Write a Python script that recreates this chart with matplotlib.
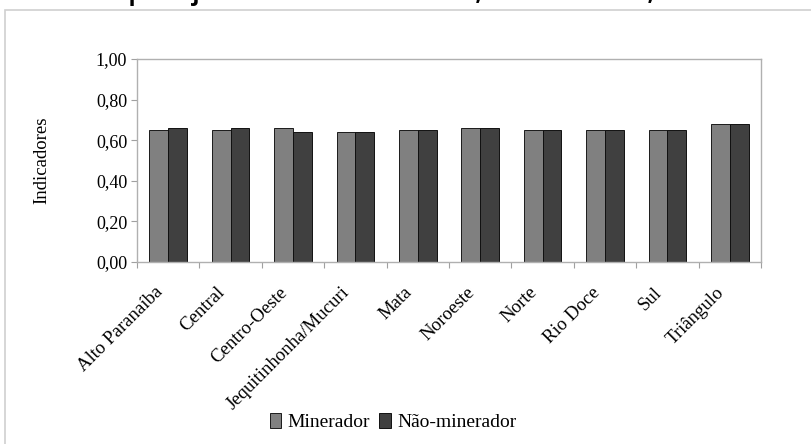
import matplotlib.pyplot as plt
import matplotlib.transforms as mtransforms
import numpy as np
from matplotlib.patches import Rectangle

# Regiões de planejamento e indicadores médios
regioes = ["Alto Paranaíba", "Central", "Centro-Oeste", "Jequitinhonha/Mucuri",
           "Mata", "Noroeste", "Norte", "Rio Doce", "Sul", "Triângulo"]
minerador = [0.65, 0.65, 0.66, 0.64, 0.65, 0.66, 0.65, 0.65, 0.65, 0.68]
nao_minerador = [0.66, 0.66, 0.64, 0.64, 0.65, 0.66, 0.65, 0.65, 0.65, 0.68]
yticks = [0.0, 0.2, 0.4, 0.6, 0.8, 1.0]

W, H = 812, 444
fig = plt.figure(figsize=(W / 100, H / 100), dpi=100)
plt.rcParams["font.family"] = ["Liberation Serif", "DejaVu Serif"]

# moldura do gráfico
fig.patches.append(Rectangle((5 / W, -0.1), 1.0, 1.1 - 10 / H, transform=fig.transFigure,
                             fill=False, edgecolor="#d0d0d0", linewidth=1.2))

# título (cortado no topo)
fig.text(445 / W, 1 + 0.5 / H, "do planejamento de Minas Gerais, nos anos 2000, 2002 e 2004.",
         ha="center", va="baseline", fontsize=16.5, fontweight="bold",
         family=["Open Sans", "DejaVu Sans"])

ax = fig.add_axes([137 / W, 1 - 262 / H, (761 - 137) / W, (262 - 59) / H])

x = np.arange(len(regioes))
w = 0.3
ax.bar(x - w / 2, minerador, w, color="#808080", edgecolor="#1a1a1a", linewidth=0.7,
       label="Minerador")
ax.bar(x + w / 2, nao_minerador, w, color="#404040", edgecolor="#111111", linewidth=0.7,
       label="Não-minerador")

ax.set_xlim(-0.5, len(regioes) - 0.5)
ax.set_ylim(0, 1.0)
ax.set_yticks(yticks)
ax.set_yticklabels([f"{v:.2f}".replace(".", ",") for v in yticks], fontsize=13)
ax.tick_params(axis="y", length=4, color="#a0a0a0", pad=3)

# marcas entre categorias
ax.set_xticks(np.arange(len(regioes) + 1) - 0.5)
ax.set_xticklabels([])
ax.tick_params(axis="x", which="major", length=4, color="#a0a0a0")
ax.set_xticks(x, minor=True)
ax.set_xticklabels(regioes, minor=True, rotation=45, ha="right", va="center",
                   rotation_mode="anchor", fontsize=13.5)
ax.tick_params(axis="x", which="minor", length=0, pad=20)
shift = mtransforms.ScaledTranslation(-8 / 100, 0, fig.dpi_scale_trans)
for lbl in ax.get_xticklabels(minor=True):
    lbl.set_transform(lbl.get_transform() + shift)

for s in ax.spines.values():
    s.set_color("#b0b0b0")
    s.set_linewidth(1.0)

ax.set_ylabel("Indicadores", fontsize=13.5, labelpad=33)

fig.legend(loc="center", bbox_to_anchor=(393 / W, 1 - 422 / H), ncol=2, frameon=False,
           fontsize=14, handlelength=0.6, handleheight=0.8, handletextpad=0.3,
           columnspacing=0.5)

fig.savefig("out.png", dpi=100)
